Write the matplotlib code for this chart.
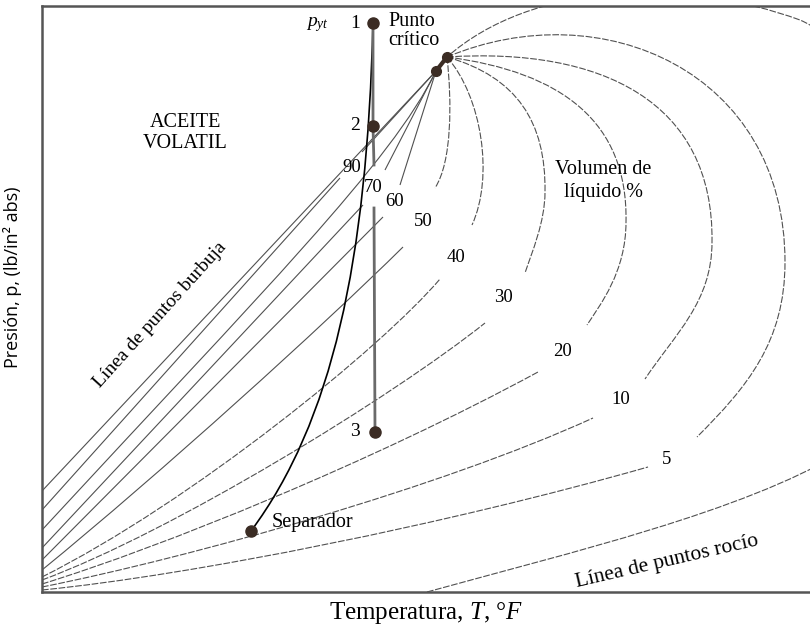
import matplotlib.pyplot as plt
from matplotlib.path import Path
from matplotlib.patches import PathPatch

plt.rcParams['font.family'] = ['Liberation Serif', 'DejaVu Serif']
plt.rcParams['mathtext.fontset'] = 'custom'
plt.rcParams['mathtext.rm'] = 'Liberation Serif'
plt.rcParams['mathtext.it'] = 'Liberation Serif:italic'

# Curvas de calidad (% volumen de liquido): puntos de control Bezier (T, p)
burbuja = [(0, 101), (394, 521)]
c90_inf = [(0, 82), (298, 414)]
c90_sup = [(320, 440), (394, 521)]
c80 = [(0, 62), (220, 300), (350, 430), (394, 521)]
c70_inf = [(0, 44), (321, 387)]
c70_sup = [(343, 422), (394, 521)]
c60_inf = [(0, 32), (341, 375)]
c60_sup = [(358, 407), (394, 521)]
c50_inf = [(0, 22), (120, 120), (280, 265), (361, 345)]
c50_sup = [(405, 535), (410, 490), (410, 430), (393, 404)]
c40_inf = [(0, 15), (150, 90), (340, 245), (398, 313)]
c40_sup = [(405, 535), (440, 495), (452, 415), (430, 367)]
c30_inf = [(0, 12), (130, 60), (350, 195), (443, 269)]
c30_sup = [(405, 535), (475, 515), (504, 470), (503, 400), (503, 370), (490, 340), (483, 319)]
c20_inf = [(0, 8), (120, 45), (330, 130), (496, 220)]
c20_sup = [(405, 535), (520, 520), (586, 470), (584, 370), (584, 320), (558, 287), (545, 267)]
c10_inf = [(0, 5), (150, 35), (400, 105), (551, 174)]
c10_sup = [(405, 535), (560, 545), (672, 490), (670, 350), (670, 290), (633, 258), (603, 213)]
c5_inf = [(0, 2), (151, 17), (406, 68), (606, 125)]
c5_sup = [(405, 535), (560, 600), (743, 520), (743, 330), (743, 250), (705, 205), (655, 155)]
rocio = [(385, 0), (530, 40), (700, 80), (800, 140), (880, 200), (880, 520), (758, 572),
         (640, 615), (490, 610), (405, 535)]

rectas = [burbuja, c90_inf, c90_sup, c80, c70_inf, c70_sup, c60_inf, c60_sup, c50_inf]
curvas = [c50_sup, c40_inf, c40_sup, c30_inf, c30_sup, c20_inf, c20_sup,
          c10_inf, c10_sup, c5_inf, c5_sup, rocio]

# Etiquetas de porcentaje
etiquetas = ['90', '70', '60', '50', '40', '30', '20', '10', '5']
etiq_T = [310, 331, 353, 381, 414, 461, 521, 579, 625]
etiq_p = [424, 405, 391, 370, 334, 294, 240, 192, 133]

# Punto critico y trayectoria del yacimiento
critico_T = [394, 405]
critico_p = [521, 535]
puntos_T = [331, 331, 333]
puntos_p = [569, 466, 160]
vertical_a_T = [331, 331, 332]
vertical_a_p = [569, 466, 427]
vertical_b_T = [332, 333]
vertical_b_p = [384, 160]
separador = (209, 61)
trayectoria = [(331, 569), (325, 330), (290, 170), (209, 61)]


def dibujar(ax, pts, **kw):
    if len(pts) == 2:
        codes = [Path.MOVETO, Path.LINETO]
    else:
        codes = [Path.MOVETO] + [Path.CURVE4] * (len(pts) - 1)
    ax.add_patch(PathPatch(Path(pts, codes), fill=False, **kw))


fig = plt.figure(figsize=(8.1, 6.32), dpi=100)
ax = fig.add_axes([42 / 810, 40 / 632, 768 / 810, 586 / 632])
ax.set_xlim(0, 768)
ax.set_ylim(0, 586)
ax.set_xticks([])
ax.set_yticks([])
ax.spines['right'].set_visible(False)
for s in ['left', 'top', 'bottom']:
    ax.spines[s].set_color('#555555')
    ax.spines[s].set_linewidth(1.8)

for c in rectas:
    dibujar(ax, c, edgecolor='#505050', lw=0.8)
for c in curvas:
    dibujar(ax, c, edgecolor='#505050', lw=0.8, linestyle=(0, (6, 1.5)))

for t, x, y in zip(etiquetas, etiq_T, etiq_p):
    ax.text(x, y, t, fontsize=13.5, ha='center', va='center')

ax.plot(critico_T, critico_p, color='#3b2c24', lw=3)
ax.plot(critico_T, critico_p, 'o', color='#3b2c24', ms=7)

ax.plot(vertical_a_T, vertical_a_p, color='#6a6a6a', lw=2)
ax.plot(vertical_b_T, vertical_b_p, color='#6a6a6a', lw=2)
dibujar(ax, trayectoria, edgecolor='black', lw=1.2)
ax.plot(puntos_T, puntos_p, 'o', color='#3b2c24', ms=8)
ax.plot(*separador, 'o', color='#3b2c24', ms=8)

for t, y in zip(['1', '2', '3'], puntos_p):
    ax.text(puntos_T[0] - 18, y, t, fontsize=14, ha='center', va='center')
ax.text(276, 567, '$p_{yt}$', fontsize=14, ha='center', va='center')
ax.text(346, 561, 'Punto\ncrítico', fontsize=14.5, ha='left', va='center', linespacing=1.0)
ax.text(143, 459, 'ACEITE\nVOLATIL', fontsize=14.5, ha='center', va='center', linespacing=1.15)
ax.text(561, 411, 'Volumen de\nlíquido %', fontsize=14.5, ha='center', va='center', linespacing=1.25)
ax.text(230, 70, 'Separador', fontsize=14.5, ha='left', va='center')
ax.text(118, 277, 'Línea de puntos burbuja', fontsize=14, ha='center', va='center', rotation=48)
ax.text(625, 30, 'Línea de puntos rocío', fontsize=15.5, ha='center', va='center', rotation=13)

ax.set_xlabel('Temperatura, $T$, °$F$', fontsize=18, labelpad=6)
ax.set_ylabel('Presión, p, (lb/in² abs)', fontsize=13, family=['Open Sans', 'DejaVu Sans'])
ax.yaxis.set_label_coords(-0.026, 0.537)

fig.savefig('out.png', dpi=100)
